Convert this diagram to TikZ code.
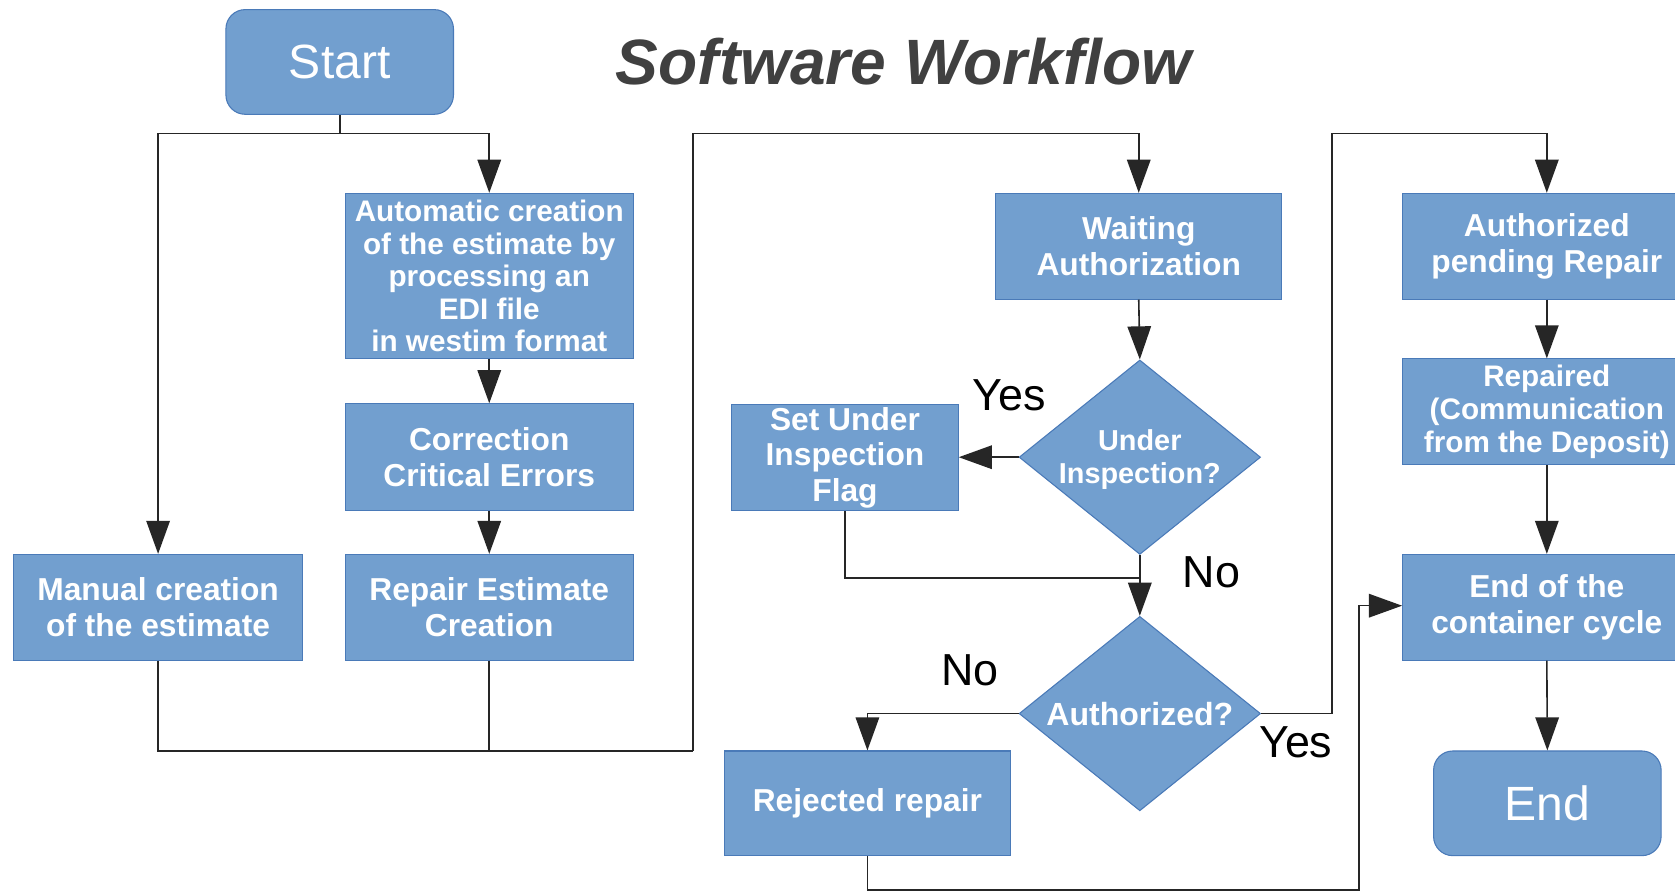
\documentclass[tikz,border=0pt]{standalone}
\usepackage{fontspec}
\setmainfont{Liberation Sans}
\usetikzlibrary{shapes.geometric,arrows.meta}
\definecolor{boxfill}{HTML}{729FCF}
\definecolor{boxline}{HTML}{4A7AB8}
\definecolor{titlegray}{HTML}{404040}
\begin{document}
\begin{tikzpicture}[x=1pt,y=-1pt,
  box/.style={rectangle, draw=boxline, line width=1pt, fill=boxfill, text=white,
    font=\bfseries\fontsize{29.7}{33.5}\selectfont, align=center, inner sep=0pt},
  tightbox/.style={box, font=\bfseries\fontsize{27.8}{30.5}\selectfont},
  term/.style={rectangle, rounded corners=18pt, draw=boxline, line width=1pt, fill=boxfill,
    text=white, font=\fontsize{45}{50}\selectfont, inner sep=0pt,
    minimum width=213pt, minimum height=98pt},
  dia/.style={diamond, draw=boxline, line width=1pt, fill=boxfill, inner sep=0pt,
    minimum width=226pt, minimum height=182pt},
  dtext/.style={text=white, font=\bfseries\fontsize{27}{31}\selectfont, align=center},
  lbl/.style={text=black, font=\fontsize{42}{46}\selectfont},
  line/.style={draw=black!85, line width=1.5pt},
  arr/.style={line, -{Triangle[length=31pt,width=22pt]}}
]
\clip (0,0) rectangle (1568,834);
\fill[white] (0,0) rectangle (1568,834);

% title
\node[text=titlegray, font=\bfseries\itshape\fontsize{60}{66}\selectfont] (title) at (846,58) {Software Workflow};

% nodes
\node[term] (start) at (318,58) {Start};
\node[box, tightbox, minimum width=270pt, minimum height=155pt] (auto) at (458,258.5)
  {Automatic creation\\of the estimate by\\processing an\\EDI file\\in westim format};
\node[box, minimum width=270pt, minimum height=100pt] (corr) at (458,428) {Correction\\Critical Errors};
\node[box, minimum width=270pt, minimum height=99pt] (rep) at (458,568.5) {Repair Estimate\\Creation};
\node[box, minimum width=270pt, minimum height=99pt] (man) at (148,568.5) {Manual creation\\of the estimate};
\node[box, minimum width=268pt, minimum height=99pt] (wait) at (1066,230.5) {Waiting\\Authorization};
\node[dia, label={[dtext, yshift=-2pt]center:Under\\Inspection?}] (insp) at (1067,428) {};
\node[box, minimum width=212pt, minimum height=99pt] (setf) at (791,428.5) {Set Under\\Inspection\\Flag};
\node[dia, label={[dtext, font=\bfseries\fontsize{30}{34}\selectfont]center:Authorized?}] (authq) at (1067,668) {};
\node[box, minimum width=268pt, minimum height=98pt] (rej) at (812,752) {Rejected repair};
\node[box, minimum width=270pt, minimum height=99pt] (apr) at (1448,230.5) {Authorized\\pending Repair};
\node[box, tightbox, minimum width=270pt, minimum height=99pt] (rpd) at (1448,385.5)
  {Repaired\\(Communication\\from the Deposit)};
\node[box, minimum width=270pt, minimum height=99pt] (eoc) at (1448,568.5) {End of the\\container cycle};
\node[term] (end) at (1448.5,752) {End};

% labels
\node[lbl] (yes1) at (945,370) {Yes};
\node[lbl] (no1) at (1134,536) {No};
\node[lbl] (no2) at (908,627) {No};
\node[lbl] (yes2) at (1213,695) {Yes};

% connectors
\coordinate (s1) at (318,125);
\coordinate (b1) at (649,703);
\coordinate (t1) at (649,125);
\coordinate (j2) at (1067,541);
\coordinate (t2) at (1247,125);
\coordinate (bb) at (1272,833);

\draw[line] (start.south) -- (s1);
\draw[arr] (s1) -| (man.north);
\draw[arr] (s1) -| (auto.north);
\draw[arr] (auto.south) -- (corr.north);
\draw[arr] (corr.south) -- (rep.north);
\draw[line] (man.south) |- (b1);
\draw[line] (rep.south) -- (rep.south |- b1);
\draw[arr] (b1) -- (t1) -| (wait.north);
\draw[arr] (wait.south) -- (insp.north);
\draw[arr] (insp.west) -- (insp.west -| setf.east);
\draw[line] (setf.south) |- (j2);
\draw[arr] (insp.south) -- (authq.north);
\draw[arr] (authq.west) -| (rej.north);
\draw[arr] (authq.east) -| (t2) -| (apr.north);
\draw[arr] (apr.south) -- (rpd.north);
\draw[arr] (rpd.south) -- (eoc.north);
\draw[arr] (eoc.south) -- (end.north);
\draw[arr] (rej.south) |- (bb) |- ([yshift=1.5pt]eoc.west);
\end{tikzpicture}
\end{document}
